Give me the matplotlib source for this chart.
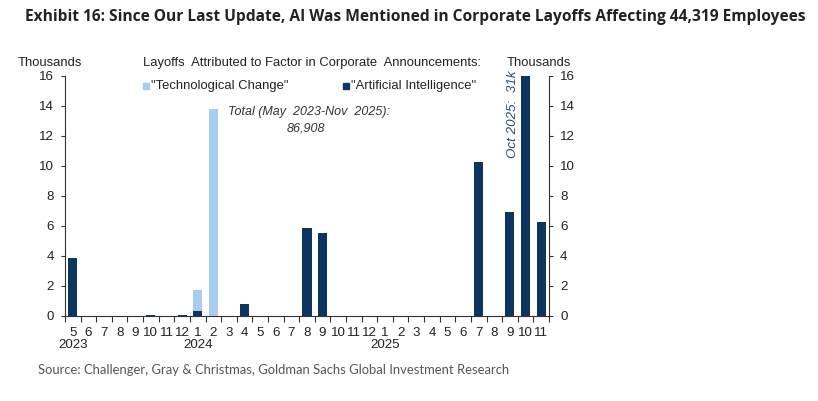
import numpy as np
import matplotlib
matplotlib.use('Agg')
import matplotlib.pyplot as plt
from matplotlib.patches import Rectangle

# monthly layoffs, thousands (May 2023 - Nov 2025)
months = [5, 6, 7, 8, 9, 10, 11, 12,
          1, 2, 3, 4, 5, 6, 7, 8, 9, 10, 11, 12,
          1, 2, 3, 4, 5, 6, 7, 8, 9, 10, 11]
years = {0: '2023', 8: '2024', 20: '2025'}
tech_change = [0, 0, 0, 0, 0, 0, 0, 0,
               1.76, 13.8, 0, 0, 0, 0, 0, 0, 0, 0, 0, 0,
               0, 0, 0, 0, 0, 0, 0, 0, 0, 0, 0]
ai = [3.87, 0, 0, 0, 0, 0.07, 0, 0.07,
      0.36, 0, 0, 0.78, 0, 0, 0, 5.87, 5.53, 0, 0, 0,
      0, 0, 0, 0, 0, 0, 10.24, 0, 6.96, 31.0, 6.24]

LIGHT = '#a8cdee'
DARK = '#0c3560'
TXT = '#222222'
FS = 9.4

plt.rcParams['font.family'] = ['Liberation Sans', 'DejaVu Sans']

fig = plt.figure(figsize=(8.18, 4.01), dpi=100)
ax = fig.add_axes([65 / 818, 1 - 316 / 401, (549 - 65) / 818, (316 - 76) / 401])

x = np.arange(len(months))
w = 0.58
ax.bar(x, tech_change, width=w, color=LIGHT, zorder=2)
ax.bar(x, ai, width=w, color=DARK, zorder=3)

ax.set_xlim(-0.5, len(months) - 0.5)
ax.set_ylim(0, 16)
ax.set_yticks(range(0, 17, 2))

ax.spines['top'].set_visible(False)
for s in ['left', 'right', 'bottom']:
    ax.spines[s].set_color('#333333')
    ax.spines[s].set_linewidth(0.8)

ax.tick_params(axis='y', which='both', left=True, right=True, labelleft=True,
               labelright=True, direction='out', length=3, color='#333333',
               labelsize=FS + 0.2, labelcolor=TXT, pad=5)

# month boundary ticks, labels centred on bars
ax.set_xticks(np.arange(-0.5, len(months), 1.0))
ax.set_xticklabels([])
ax.tick_params(axis='x', which='major', direction='out', length=4, color='#333333')
ax.set_xticks(x, minor=True)
ax.set_xticklabels([str(m) for m in months], minor=True)
ax.tick_params(axis='x', which='minor', length=0, labelsize=FS + 0.2, labelcolor=TXT, pad=8)

for i, yr in years.items():
    xf = fig.transFigure.inverted().transform(ax.transData.transform((i, 0)))[0]
    fig.text(xf, 1 - 345 / 401, yr, ha='center', va='center', fontsize=FS + 0.2, color=TXT)

fig.text(18 / 818, 1 - 63 / 401, 'Thousands', ha='left', va='center', fontsize=FS, color=TXT)
fig.text(507 / 818, 1 - 63 / 401, 'Thousands', ha='left', va='center', fontsize=FS, color=TXT)
fig.text(143 / 818, 1 - 63 / 401, 'Layoffs  Attributed to Factor in Corporate  Announcements:',
         ha='left', va='center', fontsize=FS, color=TXT)

# legend
for lx, col, lab in [(143, LIGHT, '"Technological Change"'), (343, DARK, '"Artificial Intelligence"')]:
    fig.patches.append(Rectangle((lx / 818, 1 - 89 / 401), 6 / 818, 6 / 401,
                                 transform=fig.transFigure, color=col))
    fig.text((lx + 8) / 818, 1 - 86 / 401, lab, ha='left', va='center', fontsize=FS, color=TXT)

ax.text(9.94, 13.6, 'Total (May  2023-Nov  2025):', ha='left', va='center',
        fontsize=9, style='italic', color='#333333')
ax.text(14.9, 12.5, '86,908', ha='center', va='center',
        fontsize=9, style='italic', color='#333333')
ax.text(28.2, 13.45, 'Oct 2025:  31k', ha='center', va='center', rotation=90,
        fontsize=9.6, style='italic', color='#2c4a7a', zorder=5)

fig.text(25 / 818, 1 - 17 / 401,
         'Exhibit 16: Since Our Last Update, AI Was Mentioned in Corporate Layoffs Affecting 44,319 Employees',
         ha='left', va='center', fontsize=11.2, fontweight='bold', color='#222222',
         family=['Open Sans', 'DejaVu Sans'])
fig.text(38 / 818, 1 - 370 / 401,
         'Source: Challenger, Gray & Christmas, Goldman Sachs Global Investment Research',
         ha='left', va='center', fontsize=9.4, color='#555555', family=['Lato', 'DejaVu Sans'])

fig.savefig('out.png', dpi=100, facecolor='white')
